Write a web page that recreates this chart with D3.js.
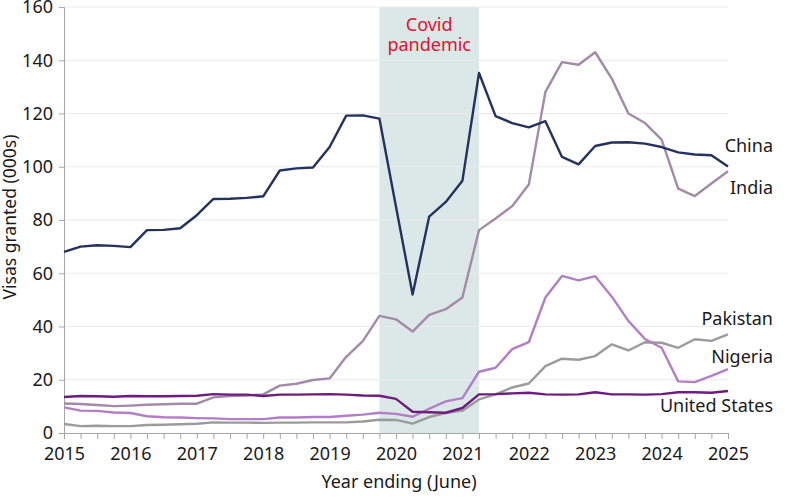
<!DOCTYPE html>
<html>
<head>
<meta charset="utf-8">
<script src="https://cdn.jsdelivr.net/npm/d3@7"></script>
<style>
  body { margin: 0; background: #fff; }
  svg text { font-family: "Noto Sans", "Open Sans", sans-serif; fill: #1a1a1a; }
</style>
</head>
<body>
<div id="chart"></div>
<script>
// quarterly points, year ending June 2015 .. 2025
var quarters = d3.range(41).map(function(i){ return 2015 + i / 4; });

var china = [68, 70, 70.5, 70.3, 69.8, 76.2, 76.3, 76.9, 81.8, 87.9, 88.0, 88.3, 88.9,
  98.6, 99.4, 99.7, 107.4, 119.2, 119.3, 118.1, 85, 52, 81.3, 86.8, 94.7,
  135.2, 119.0, 116.4, 114.8, 117.1, 103.7, 100.9, 107.8, 109.1, 109.2, 108.7,
  107.4, 105.4, 104.6, 104.3, 100.1];
var india = [11.1, 10.9, 10.5, 10.1, 10.3, 10.6, 10.8, 11.0, 11.0, 13.4, 13.9, 14.1, 14.5,
  17.8, 18.5, 19.9, 20.5, 28.6, 34.5, 44.0, 42.7, 38.1, 44.4, 46.5, 50.9,
  76.2, 80.6, 85.2, 93.3, 128.1, 139.3, 138.3, 143.0, 133.1, 120.0, 116.4,
  110.2, 91.8, 89.0, 93.7, 98.3];
var pakistan = [3.4, 2.6, 2.7, 2.6, 2.6, 3.0, 3.1, 3.3, 3.5, 4.0, 3.9, 3.9, 3.8,
  3.9, 3.9, 4.0, 4.0, 4.0, 4.3, 5.0, 4.9, 3.5, 6.0, 7.5, 8.4,
  12.6, 14.5, 17.1, 18.6, 25.1, 27.9, 27.5, 28.9, 33.3, 31.0, 34.1,
  33.9, 32.0, 35.2, 34.6, 37.0];
var nigeria = [9.6, 8.4, 8.3, 7.7, 7.5, 6.3, 5.9, 5.8, 5.6, 5.5, 5.2, 5.2, 5.2,
  5.8, 5.8, 6.0, 6.0, 6.5, 6.9, 7.6, 7.2, 6.1, 9.1, 11.9, 13.1,
  23.0, 24.5, 31.5, 34.1, 50.9, 59.0, 57.3, 58.9, 51.2, 42.1, 35.3,
  32.0, 19.4, 19.1, 21.5, 24.0];
var unitedStates = [13.5, 13.9, 13.8, 13.6, 13.9, 13.8, 13.8, 13.9, 14.0, 14.6, 14.4, 14.4, 13.9,
  14.4, 14.4, 14.5, 14.6, 14.4, 14.1, 14.0, 12.8, 8.0, 7.8, 7.6, 9.4,
  14.5, 14.6, 14.9, 15.1, 14.5, 14.4, 14.5, 15.3, 14.5, 14.5, 14.4,
  14.6, 15.3, 15.3, 15.1, 15.8];

var yTicks = [0, 20, 40, 60, 80, 100, 120, 140, 160];
var covidPeriod = [2019.75, 2021.25];

// drawing order: back to front
var seriesList = [
  {name: "Pakistan", values: pakistan, color: "#9b9b9b"},
  {name: "Nigeria", values: nigeria, color: "#b27fc6"},
  {name: "India", values: india, color: "#a38aa9"},
  {name: "United States", values: unitedStates, color: "#6c1d7d"},
  {name: "China", values: china, color: "#243260"}
];
// vertical nudge of each end label from its line end, in px
var labelShift = {"China": -21, "India": 16, "Pakistan": -16, "Nigeria": -12, "United States": 15};

var width = 785, height = 499;
var margin = {top: 7, right: 57, bottom: 66, left: 64};
var innerW = width - margin.left - margin.right;
var innerH = height - margin.top - margin.bottom;

var svg = d3.select("#chart").append("svg")
    .attr("width", width)
    .attr("height", height);
var g = svg.append("g").attr("transform", "translate(" + margin.left + "," + margin.top + ")");

var x = d3.scaleLinear().domain([2015, 2025]).range([0, innerW]);
var y = d3.scaleLinear().domain([0, 160]).range([innerH, 0]);

// covid band
g.append("rect")
    .attr("x", x(covidPeriod[0]))
    .attr("y", 0)
    .attr("width", x(covidPeriod[1]) - x(covidPeriod[0]))
    .attr("height", innerH)
    .attr("fill", "#dce8e8");

// gridlines
g.selectAll(".grid").data(yTicks.slice(1)).enter().append("line")
    .attr("x1", 0).attr("x2", innerW)
    .attr("y1", function(d){ return y(d); })
    .attr("y2", function(d){ return y(d); })
    .attr("stroke", "#ebebeb")
    .attr("stroke-width", 1);

// covid label
var cx = x((covidPeriod[0] + covidPeriod[1]) / 2);
var covidText = g.append("text")
    .attr("text-anchor", "middle")
    .style("font-size", "18px")
    .style("fill", "#e2102f");
covidText.append("tspan").attr("x", cx).attr("y", 24).text("Covid");
covidText.append("tspan").attr("x", cx).attr("y", 44).text("pandemic");

// y axis
var yAxis = g.append("g")
    .call(d3.axisLeft(y).tickValues(yTicks).tickSize(5).tickPadding(6));
yAxis.select(".domain").attr("stroke", "#a6a6a6");
yAxis.selectAll(".tick line").attr("stroke", "#a6a6a6");
yAxis.selectAll("text").style("font-size", "18px").style("fill", "#1a1a1a");

// x axis, quarterly ticks
var xAxis = g.append("g")
    .attr("transform", "translate(0," + innerH + ")")
    .call(d3.axisBottom(x).tickValues(quarters).tickSize(6).tickPadding(8)
        .tickFormat(function(d){ return Number.isInteger(d) ? d : ""; }));
xAxis.select(".domain").attr("stroke", "#a6a6a6");
xAxis.selectAll(".tick line").attr("stroke", "#a6a6a6");
xAxis.selectAll("text").style("font-size", "18px").style("fill", "#1a1a1a");

// lines
var line = d3.line()
    .x(function(d, i){ return x(quarters[i]); })
    .y(function(d){ return y(d); });

seriesList.forEach(function(s){
    g.append("path")
        .datum(s.values)
        .attr("fill", "none")
        .attr("stroke", s.color)
        .attr("stroke-width", 2.4)
        .attr("stroke-linejoin", "round")
        .attr("d", line);
});

// series labels, right aligned past the line end
seriesList.forEach(function(s){
    var last = s.values[s.values.length - 1];
    g.append("text")
        .attr("x", 773 - margin.left)
        .attr("y", y(last) + labelShift[s.name])
        .attr("text-anchor", "end")
        .attr("dy", "0.35em")
        .style("font-size", "18px")
        .text(s.name);
});

// axis titles
svg.append("text")
    .attr("x", 399)
    .attr("y", 488)
    .attr("text-anchor", "middle")
    .style("font-size", "18px")
    .text("Year ending (June)");

svg.append("text")
    .attr("transform", "translate(16,217) rotate(-90)")
    .attr("text-anchor", "middle")
    .style("font-size", "17.5px")
    .text("Visas granted (000s)");
</script>
</body>
</html>
